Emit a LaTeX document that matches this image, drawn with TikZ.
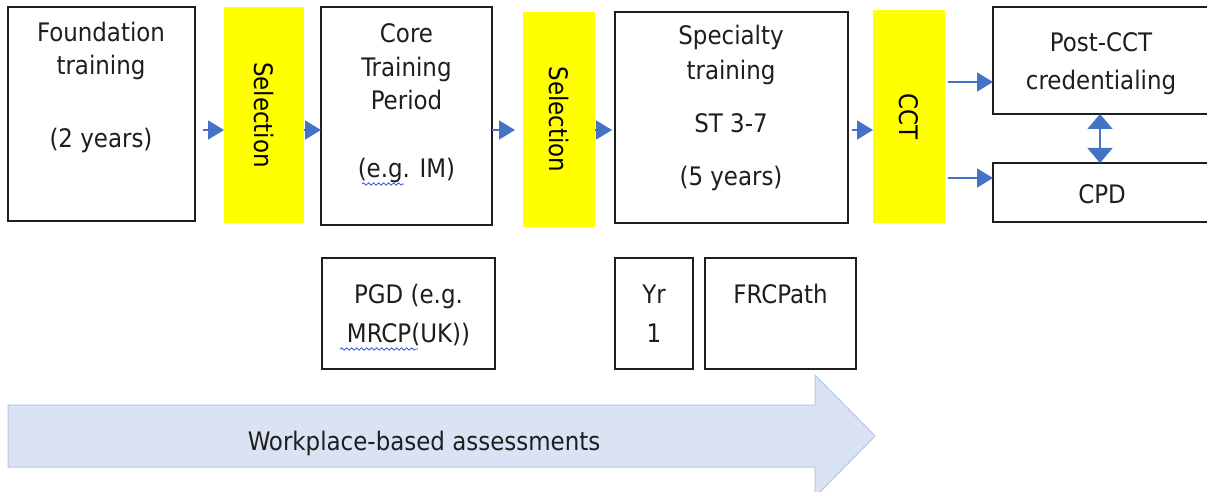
\documentclass[tikz,border=0pt]{standalone}
\usepackage{fontspec}
\setmainfont{DejaVu Sans Condensed}
\usetikzlibrary{arrows.meta,decorations.pathmorphing}
\definecolor{txt}{HTML}{1E1E1E}
\definecolor{ylw}{HTML}{FFFF00}
\definecolor{arr}{HTML}{4472C4}
\definecolor{wbfill}{HTML}{DAE3F3}
\definecolor{wbline}{HTML}{B4C7E7}
\definecolor{squig}{HTML}{3355DD}
\begin{document}
\begin{tikzpicture}[x=1pt,y=-1pt,
  box/.style={draw=txt,line width=1.8pt,fill=white,inner sep=0pt,outer sep=0pt},
  ybox/.style={fill=ylw,inner sep=0pt,outer sep=0pt},
  lbl/.style={anchor=base,inner sep=0pt,text=txt,font=\fontsize{25.5}{28}\selectfont},
  rot/.style={rotate=-90,inner sep=0pt,text=black,font=\fontsize{25.5}{28}\selectfont},
  flow/.style={draw=arr,line width=1.6pt,-{Triangle[length=16pt,width=19pt]}},
  dbl/.style={draw=arr,line width=1.6pt,{Triangle[length=15pt,width=25pt]}-{Triangle[length=15pt,width=25pt]}},
  wavy/.style={draw=squig,line width=0.8pt,decorate,decoration={snake,segment length=5pt,amplitude=1.2pt}}]
\path[use as bounding box] (0,0) rectangle (1207,492);
\clip (0,0) rectangle (1207,492);
\fill[white] (0,0) rectangle (1207,492);

% work-based assessment arrow
\draw[fill=wbfill,draw=wbline,line width=1pt] (8,405) -- (815,405) -- (815,375) -- (875,436) -- (815,497) -- (815,467) -- (8,467) -- cycle;
\node[lbl] (wba) at (424,450) {Workplace-based assessments};

% main boxes
\node[box,minimum width=187pt,minimum height=214pt] (found) at (101.5,114) {};
\node[ybox,minimum width=80pt,minimum height=216pt] (sel1) at (264,115) {};
\node[box,minimum width=171pt,minimum height=218pt] (core) at (406.5,116) {};
\node[ybox,minimum width=72pt,minimum height=215pt] (sel2) at (559,119.5) {};
\node[box,minimum width=233pt,minimum height=211pt] (spec) at (731.5,117.5) {};
\node[ybox,minimum width=72pt,minimum height=213pt] (cct) at (909,116.5) {};
\node[box,minimum width=219pt,minimum height=107pt] (post) at (1102.5,60.5) {};
\node[box,minimum width=219pt,minimum height=59pt] (cpd) at (1102.5,192.5) {};
\node[box,minimum width=173pt,minimum height=111pt] (pgd) at (408.5,313.5) {};
\node[box,minimum width=78pt,minimum height=111pt] (yr) at (654,313.5) {};
\node[box,minimum width=151pt,minimum height=111pt] (frc) at (780.5,313.5) {};

% texts
\node[lbl] (f1) at (101,42) {Foundation};
\node[lbl] (f2) at (101,75) {training};
\node[lbl] (f3) at (101,147) {(2 years)};
\node[rot] (s1) at (sel1) {Selection};
\node[lbl] (c1) at (406.5,43) {Core};
\node[lbl] (c2) at (406.5,77) {Training};
\node[lbl] (c3) at (406.5,110) {Period};
\node[lbl] (c4) at (406.5,177) {(e.g. IM)};
\node[rot] (s2) at (sel2) {Selection};
\node[lbl] (p1) at (731,45) {Specialty};
\node[lbl] (p2) at (731,80) {training};
\node[lbl] (p3) at (731,132) {ST 3-7};
\node[lbl] (p4) at (731,185) {(5 years)};
\node[rot] (s3) at (cct) {CCT};
\node[lbl] (q1) at (1101,52) {Post-CCT};
\node[lbl] (q2) at (1101,90) {credentialing};
\node[lbl] (d1) at (1102,203) {CPD};
\node[lbl] (g1) at (408.5,303) {PGD (e.g.};
\node[lbl] (g2) at (408.5,342) {MRCP(UK))};
\node[lbl] (y1) at (654,303) {Yr};
\node[lbl] (y2) at (654,342) {1};
\node[lbl] (r1) at (780.5,303) {FRCPath};

% spell-check underlines
\draw[wavy] (362,184) -- (404,184);
\draw[wavy] (340,349) -- (418,349);

% connectors
\coordinate (row) at (0,130);
\coordinate (up) at (0,82);
\coordinate (dn) at (0,178);
\coordinate (dx) at (1100,0);
\draw[flow,shorten <=8pt] (found.east |- row) -- (sel1.west |- row);
\draw[flow] (sel1.east |- row) -- (core.west |- row);
\draw[flow,shorten >=8pt] (core.east |- row) -- (sel2.west |- row);
\draw[flow,shorten >=3pt] (sel2.east |- row) -- (spec.west |- row);
\draw[flow,shorten <=4pt] (spec.east |- row) -- (cct.west |- row);
\draw[flow,shorten <=3pt] (cct.east |- up) -- (post.west |- up);
\draw[flow,shorten <=3pt] (cct.east |- dn) -- (cpd.west |- dn);
\draw[dbl] (post.south -| dx) -- (cpd.north -| dx);
\end{tikzpicture}
\end{document}
